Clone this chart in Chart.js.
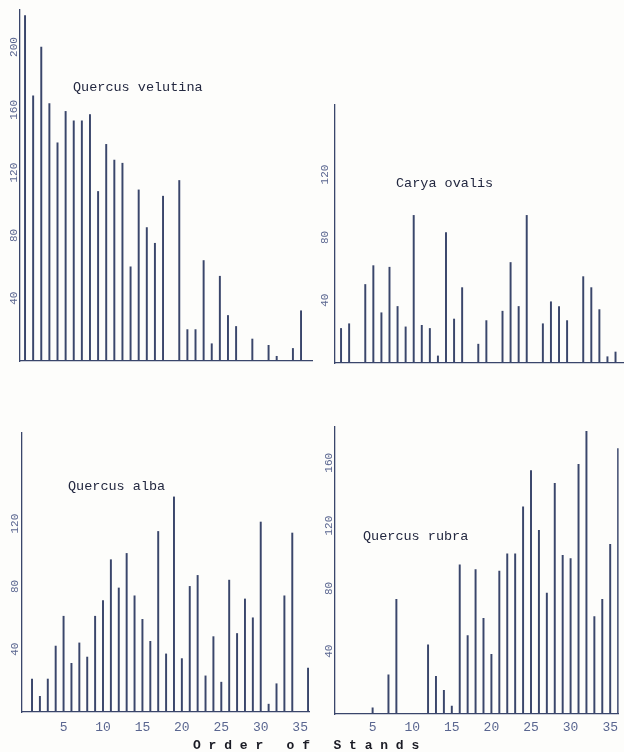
<!DOCTYPE html>
<html lang="en">
<head>
<meta charset="UTF-8" />
<title>Order of Stands</title>
<script src="https://cdn.jsdelivr.net/npm/chart.js@4"></script>
<style>
  body { margin: 0; background: #fff; }
  #page { position: relative; width: 624px; height: 752px; overflow: hidden; background: #fdfdfb; }
  #page canvas { position: absolute; }
  .name { position: absolute; font-family: "Liberation Mono", "DejaVu Sans Mono", monospace; font-size: 13.5px; color: #232840; white-space: pre; line-height: 1; }
  #xtitle { position: absolute; left: 193px; top: 739px; font-family: "Liberation Mono", "DejaVu Sans Mono", monospace; font-size: 13px; font-weight: bold; color: #1a1b24; white-space: pre; line-height: 1; }
</style>
</head>
<body>
<div id="page">
  <canvas id="velutina" width="318" height="380" style="left:0;top:0"></canvas>
  <canvas id="ovalis" width="314" height="290" style="left:310px;top:90px"></canvas>
  <canvas id="alba" width="318" height="337" style="left:0;top:415px"></canvas>
  <canvas id="rubra" width="314" height="337" style="left:310px;top:415px"></canvas>
  <div class="name" style="left:73px;top:81px">Quercus velutina</div>
  <div class="name" style="left:396px;top:177px">Carya ovalis</div>
  <div class="name" style="left:68px;top:480px">Quercus alba</div>
  <div class="name" style="left:363px;top:530px">Quercus rubra</div>
  <div id="xtitle">O r d e r   o f   S t a n d s</div>
</div>
<script>
// stands 1..36, one value per stand (0 = no line drawn)
const stands = [1, 2, 3, 4, 5, 6, 7, 8, 9, 10, 11, 12, 13, 14, 15, 16, 17, 18,
  19, 20, 21, 22, 23, 24, 25, 26, 27, 28, 29, 30, 31, 32, 33, 34, 35, 36];
const xTicks = [5, 10, 15, 20, 25, 30, 35];

const velutina = [220, 169, 200, 164, 139, 159, 153, 153, 157, 108, 138, 128, 126, 60, 109, 85, 75, 105,
  0, 115, 20, 20, 64, 11, 54, 29, 22, 0, 14, 0, 10, 3, 0, 8, 32, 0];
const caryaOvalis = [22, 25, 0, 50, 62, 32, 61, 36, 23, 94, 24, 22, 4.5, 83, 28, 48, 0, 12,
  27, 0, 33, 64, 36, 94, 0, 25, 39, 36, 27, 0, 55, 48, 34, 4, 7, 0];
const alba = [21, 10, 21, 42, 61, 31, 44, 35, 61, 71, 97, 79, 101, 74, 59, 45, 115, 37,
  137, 34, 80, 87, 23, 48, 19, 84, 50, 72, 60, 121, 5, 18, 74, 114, 0, 28];
const rubra = [0, 0, 0, 0, 4, 0, 25, 73, 0, 0, 0, 44, 24, 15, 5, 95, 50, 92,
  61, 38, 91, 102, 102, 132, 155, 117, 77, 147, 101, 99, 159, 180, 62, 73, 108, 169];

const velutinaTicks = [40, 80, 120, 160, 200];
const ovalisTicks = [40, 80, 120];
const albaTicks = [40, 80, 120];
const rubraTicks = [40, 80, 120, 160];

const ink = "#3a466b";
const tickInk = "#5a6690";
const mono = "'Liberation Mono', 'DejaVu Sans Mono', monospace";

function panel(id, values, yTicks, p) {
  new Chart(document.getElementById(id), {
    type: "bar",
    data: {
      datasets: [{
        data: stands.map((s, i) => ({ x: s, y: values[i] })),
        backgroundColor: ink,
        borderWidth: 0,
        barThickness: 1.3,
      }],
    },
    options: {
      responsive: false,
      animation: false,
      layout: { padding: { top: p.top, right: p.right, left: 0, bottom: 0 } },
      plugins: { legend: { display: false }, tooltip: { enabled: false } },
      scales: {
        x: {
          type: "linear",
          offset: false,
          min: p.xMin,
          max: p.xMax,
          grid: { display: false, drawTicks: false },
          border: { color: ink, width: 1.3 },
          afterBuildTicks: (s) => { s.ticks = xTicks.map((v) => ({ value: v })); },
          afterFit: (s) => { s.height = p.xHeight; },
          ticks: { display: p.xLabels, autoSkip: false, maxRotation: 0, padding: p.xPad, color: tickInk, font: { family: mono, size: 13 } },
        },
        y: {
          min: 0,
          max: p.yMax,
          grid: { display: false, drawTicks: false },
          border: { color: ink, width: 1.3 },
          afterBuildTicks: (s) => { s.ticks = yTicks.map((v) => ({ value: v })); },
          afterFit: (s) => { s.width = p.yWidth; },
          ticks: { autoSkip: false, minRotation: 90, maxRotation: 90, crossAlign: "center", padding: p.yPad, color: tickInk, font: { family: mono, size: 11 } },
        },
      },
    },
  });
}

panel("velutina", velutina, velutinaTicks, { top: 10, right: 6, yWidth: 20, xHeight: 19, xMin: 0.38, xMax: 36.35, yMax: 223.6, xLabels: false, xPad: 0, yPad: -4 });
panel("ovalis", caryaOvalis, ovalisTicks, { top: 15, right: 0, yWidth: 25, xHeight: 17, xMin: 0.25, xMax: 36.05, yMax: 164.3, xLabels: false, xPad: 0, yPad: 0 });
panel("alba", alba, albaTicks, { top: 18, right: 9, yWidth: 22, xHeight: 40, xMin: -0.27, xMax: 36.12, yMax: 177.7, xLabels: true, xPad: 8, yPad: -3 });
panel("rubra", rubra, rubraTicks, { top: 12, right: 0, yWidth: 25, xHeight: 38, xMin: 0.25, xMax: 36.06, yMax: 182.8, xLabels: true, xPad: 6, yPad: -4 });
</script>
</body>
</html>
